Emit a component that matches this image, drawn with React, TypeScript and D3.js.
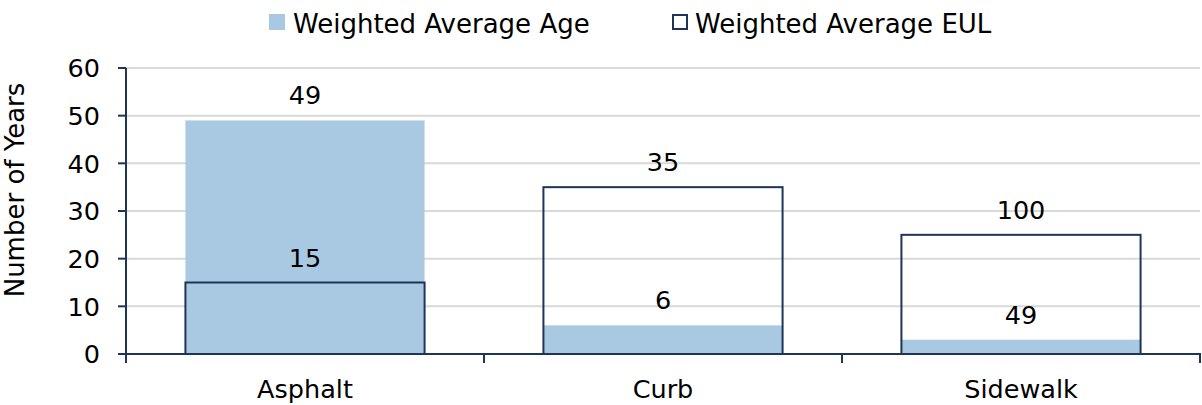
import React from "react";
import * as d3 from "d3";

const categories = ["Asphalt", "Curb", "Sidewalk"];
const ageValues = [49, 6, 3];
const eulValues = [15, 35, 25];
const ageLabels = ["49", "6", "49"];
const eulLabels = ["15", "35", "100"];
const yTicks = [0, 10, 20, 30, 40, 50, 60];
const seriesNames = ["Weighted Average Age", "Weighted Average EUL"];

const W = 1202;
const H = 405;
const M = { left: 126, right: 2, top: 68, bottom: 51 };
const FONT = "'DejaVu Sans', Verdana, sans-serif";
const AGE_FILL = "#a9c8e2";
const NAVY = "#1f3456";
const GRID = "#d9d9d9";

export default function App() {
  const x = d3
    .scaleBand<string>()
    .domain(categories)
    .range([M.left, W - M.right])
    .paddingInner(0.332)
    .paddingOuter(0.166);
  const y = d3.scaleLinear().domain([0, 60]).range([H - M.bottom, M.top]);
  const step = x.step();
  const x0 = M.left;
  const bw = x.bandwidth();
  const y0 = y(0);
  const fs = 25.5;

  return (
    <svg
      width={W}
      height={H}
      style={{ position: "absolute", left: 0, top: 0, background: "#fff" }}
      fontFamily={FONT}
    >
      {yTicks.filter((t) => t > 0).map((t) => (
        <line key={"g" + t} x1={M.left} x2={W - M.right} y1={y(t)} y2={y(t)} stroke={GRID} strokeWidth={2} />
      ))}
      {categories.map((c, i) => (
        <rect key={"a" + c} x={x(c)} y={y(ageValues[i])} width={bw} height={y0 - y(ageValues[i])} fill={AGE_FILL} />
      ))}
      {categories.map((c, i) => (
        <rect key={"e" + c} x={x(c)} y={y(eulValues[i])} width={bw} height={y0 - y(eulValues[i])} fill="none" stroke={NAVY} strokeWidth={2} />
      ))}
      <line x1={M.left} x2={M.left} y1={M.top} y2={y0} stroke={NAVY} strokeWidth={2} />
      <line x1={M.left - 8} x2={W - M.right + 1} y1={y0} y2={y0} stroke={NAVY} strokeWidth={2} />
      {yTicks.map((t) => (
        <g key={"t" + t}>
          <line x1={M.left - 8} x2={M.left} y1={y(t)} y2={y(t)} stroke={NAVY} strokeWidth={2} />
          <text x={M.left - 26} y={y(t)} dy="0.36em" textAnchor="end" fontSize={fs} fill="#000">
            {t}
          </text>
        </g>
      ))}
      {d3.range(categories.length + 1).map((k) => (
        <line key={"xt" + k} x1={x0 + k * step} x2={x0 + k * step} y1={y0} y2={y0 + 9} stroke={NAVY} strokeWidth={2} />
      ))}
      {categories.map((c) => (
        <text key={"xl" + c} x={(x(c) as number) + bw / 2} y={H - 7} textAnchor="middle" fontSize={fs} fill="#000">
          {c}
        </text>
      ))}
      {categories.map((c, i) => (
        <text key={"al" + c} x={(x(c) as number) + bw / 2} y={y(ageValues[i]) - 16} textAnchor="middle" fontSize={fs} fill="#000">
          {ageLabels[i]}
        </text>
      ))}
      {categories.map((c, i) => (
        <text key={"el" + c} x={(x(c) as number) + bw / 2} y={y(eulValues[i]) - 16} textAnchor="middle" fontSize={fs} fill="#000">
          {eulLabels[i]}
        </text>
      ))}
      <text transform={`translate(24,190) rotate(-90)`} textAnchor="middle" fontSize={26} fill="#000">
        Number of Years
      </text>
      <rect x={269} y={14} width={16} height={16} fill={AGE_FILL} />
      <text x={293} y={33} fontSize={26} fill="#000">{seriesNames[0]}</text>
      <rect x={673} y={15} width={14} height={14} fill="none" stroke={NAVY} strokeWidth={2} />
      <text x={695} y={33} fontSize={26} fill="#000">{seriesNames[1]}</text>
    </svg>
  );
}
